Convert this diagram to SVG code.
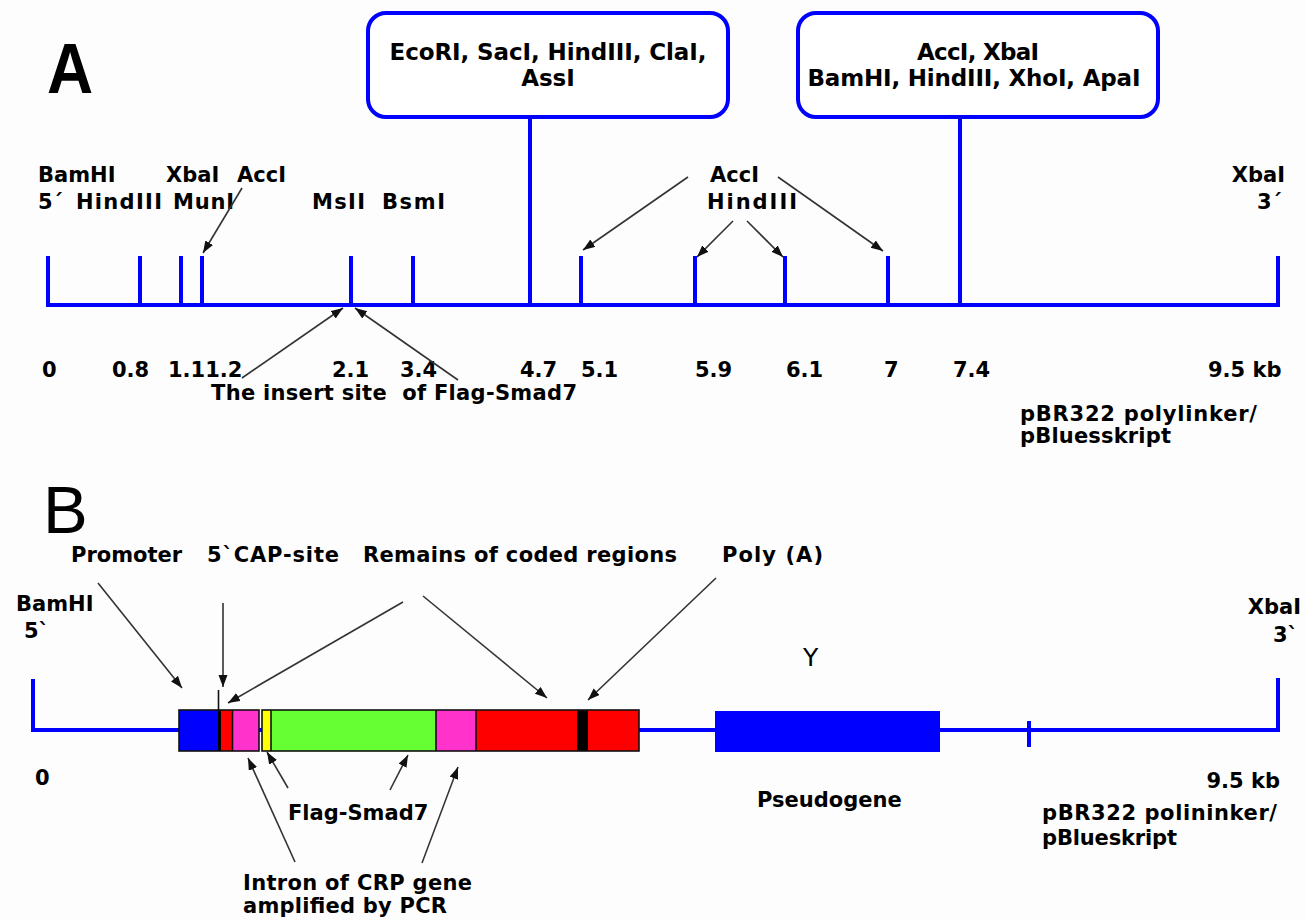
<svg xmlns="http://www.w3.org/2000/svg" width="1305" height="921" viewBox="0 0 1305 921">
  <defs>
    <marker id="ah" markerUnits="userSpaceOnUse" markerWidth="13" markerHeight="10" refX="12" refY="4.5" orient="auto">
      <path d="M0,0 L12,4.5 L0,9 z" fill="#111"/>
    </marker>
    <style>
      .t{font-family:"DejaVu Sans",sans-serif;font-weight:bold;font-size:21px;fill:#000}
      .bx{font-family:"DejaVu Sans",sans-serif;font-weight:bold;font-size:23px;fill:#000;text-anchor:middle}
      .e{text-anchor:end}
      .dna{fill:none;stroke:#0000ff;stroke-width:4}
      .site{fill:#fff;stroke:#0000ff;stroke-width:4}
      .ar{fill:none;stroke:#333;stroke-width:1.6;marker-end:url(#ah)}
      .seg{stroke:none}
      .frame{fill:none;stroke:#111;stroke-width:1.6}
    </style>
  </defs>
  <rect width="1305" height="921" fill="#fdfdfd"/>

  <!-- Panel A: restriction map -->
  <g id="panelA">
    <text x="47" y="93" transform="translate(47 0) scale(0.9 1) translate(-47 0)" style="font-family:'Liberation Sans',sans-serif;font-weight:bold;font-size:71px">A</text>

    <g id="mapA">
      <path class="dna" d="M48,256 V305 H1278 V256"/>
      <path class="dna" d="M140,256 V305 M181,256 V305 M202,256 V305 M351,256 V305 M413,256 V305 M581,256 V305 M695,256 V305 M785,256 V305 M888,256 V305 M530,117 V305 M960,117 V305"/>
    </g>

    <g id="box-ecori">
      <rect class="site" x="368" y="13" width="360" height="104" rx="18"/>
      <text class="bx" x="548" y="60" textLength="317">EcoRI, SacI, HindIII, ClaI,</text>
      <text class="bx" x="548" y="86">AssI</text>
    </g>
    <g id="box-acci">
      <rect class="site" x="798" y="13" width="360" height="104" rx="18"/>
      <text class="bx" x="978" y="60" textLength="122">AccI, XbaI</text>
      <text class="bx" x="974" y="86" textLength="333">BamHI, HindIII, XhoI, ApaI</text>
    </g>

    <g id="labelsA">
      <text class="t" x="38" y="182">BamHI</text>
      <text class="t" x="38" y="209">5´</text>
      <text class="t" x="76" y="209" textLength="86">HindIII</text>
      <text class="t" x="166" y="182">XbaI</text>
      <text class="t" x="237" y="182">AccI</text>
      <text class="t" x="173" y="209" textLength="61">MunI</text>
      <text class="t" x="312" y="209" textLength="53">MsII</text>
      <text class="t" x="382" y="209" textLength="63">BsmI</text>
      <text class="t" x="710" y="182">AccI</text>
      <text class="t" x="707" y="209" textLength="90">HindIII</text>
      <text class="t e" x="1285" y="182">XbaI</text>
      <text class="t e" x="1282" y="209">3´</text>
    </g>

    <g id="scaleA">
      <text class="t" x="42" y="377">0</text>
      <text class="t" x="112" y="377">0.8</text>
      <text class="t" x="168" y="377">1.11.2</text>
      <text class="t" x="332" y="377">2.1</text>
      <text class="t" x="400" y="377">3.4</text>
      <text class="t" x="520" y="377">4.7</text>
      <text class="t" x="581" y="377">5.1</text>
      <text class="t" x="695" y="377">5.9</text>
      <text class="t" x="786" y="377">6.1</text>
      <text class="t" x="884" y="377">7</text>
      <text class="t" x="953" y="377">7.4</text>
      <text class="t" x="1208" y="377">9.5 kb</text>
      <text class="t" x="211" y="400" textLength="366">The insert site&#160; of Flag-Smad7</text>
      <text class="t" x="1020" y="421" textLength="237">pBR322 polylinker/</text>
      <text class="t" x="1020" y="443" textLength="151">pBluesskript</text>
    </g>
  </g>

  <!-- Panel B: construct -->
  <g id="panelB">
    <text x="43" y="533" style="font-family:'Liberation Sans',sans-serif;font-size:67px">B</text>

    <g id="backboneB">
      <path class="dna" d="M33,679 V730 H1278 V678"/>
      <path class="dna" d="M1029,721 V747"/>
      <rect x="715" y="711" width="225" height="41" fill="#0000ff"/>
    </g>

    <g id="cassette-5">
      <rect class="seg" x="179" y="710" width="39" height="41" fill="#0000ff"/>
      <rect class="seg" x="218" y="710" width="3" height="41" fill="#000"/>
      <rect class="seg" x="221" y="710" width="11" height="41" fill="#ff0000"/>
      <rect class="seg" x="233" y="710" width="26" height="41" fill="#ff33cc"/>
      <path class="frame" d="M232.5,710 V751"/>
      <rect class="frame" x="179" y="710" width="80" height="41"/>
      <path d="M218.5,690 V710" stroke="#111" stroke-width="1.6"/>
    </g>

    <g id="cassette-3">
      <rect class="seg" x="262" y="710" width="9" height="41" fill="#ffff00"/>
      <rect class="seg" x="271" y="710" width="165" height="41" fill="#66ff33"/>
      <rect class="seg" x="436" y="710" width="40" height="41" fill="#ff33cc"/>
      <rect class="seg" x="476" y="710" width="101" height="41" fill="#ff0000"/>
      <rect class="seg" x="577" y="710" width="11" height="41" fill="#000"/>
      <rect class="seg" x="588" y="710" width="51" height="41" fill="#ff0000"/>
      <path class="frame" d="M271,710 V751 M436,710 V751 M476,710 V751"/>
      <rect class="frame" x="262" y="710" width="377" height="41"/>
    </g>

    <g id="labelsB">
      <text class="t" x="71" y="562">Promoter</text>
      <text class="t" x="207" y="562" textLength="132">5`CAP-site</text>
      <text class="t" x="363" y="562" textLength="314">Remains of coded regions</text>
      <text class="t" x="722" y="562" textLength="101">Poly (A)</text>
      <text class="t" x="16" y="611">BamHI</text>
      <text class="t" x="24" y="638">5`</text>
      <text class="t e" x="1301" y="614">XbaI</text>
      <text class="t e" x="1298" y="642">3`</text>
      <text x="803" y="666" style="font-family:'DejaVu Sans',sans-serif;font-size:25px">Y</text>
      <text class="t" x="35" y="785">0</text>
      <text class="t" x="757" y="807">Pseudogene</text>
      <text class="t" x="288" y="820">Flag-Smad7</text>
      <text class="t" x="243" y="890" textLength="229">Intron of CRP gene</text>
      <text class="t" x="243" y="913" textLength="204">amplified by PCR</text>
      <text class="t e" x="1280" y="788">9.5 kb</text>
      <text class="t" x="1042" y="820" textLength="235">pBR322 polininker/</text>
      <text class="t" x="1042" y="845" textLength="135">pBlueskript</text>
    </g>
  </g>

  <!-- Pointer arrows -->
  <g id="connectors">
    <line class="ar" x1="242" y1="188" x2="203" y2="253"/>
    <line class="ar" x1="242" y1="378" x2="343" y2="308"/>
    <line class="ar" x1="458" y1="380" x2="355" y2="308"/>
    <line class="ar" x1="688" y1="177" x2="583" y2="250"/>
    <line class="ar" x1="733" y1="221" x2="697" y2="257"/>
    <line class="ar" x1="747" y1="221" x2="783" y2="257"/>
    <line class="ar" x1="778" y1="177" x2="883" y2="251"/>

    <line class="ar" x1="98" y1="583" x2="182" y2="688"/>
    <line class="ar" x1="223" y1="603" x2="223" y2="687"/>
    <line class="ar" x1="403" y1="602" x2="228" y2="703"/>
    <line class="ar" x1="423" y1="596" x2="547" y2="698"/>
    <line class="ar" x1="716" y1="578" x2="588" y2="700"/>
    <line class="ar" x1="295" y1="862" x2="248" y2="758"/>
    <line class="ar" x1="422" y1="863" x2="458" y2="767"/>
    <line class="ar" x1="288" y1="788" x2="267" y2="752"/>
    <line class="ar" x1="390" y1="790" x2="408" y2="755"/>
  </g>
</svg>
